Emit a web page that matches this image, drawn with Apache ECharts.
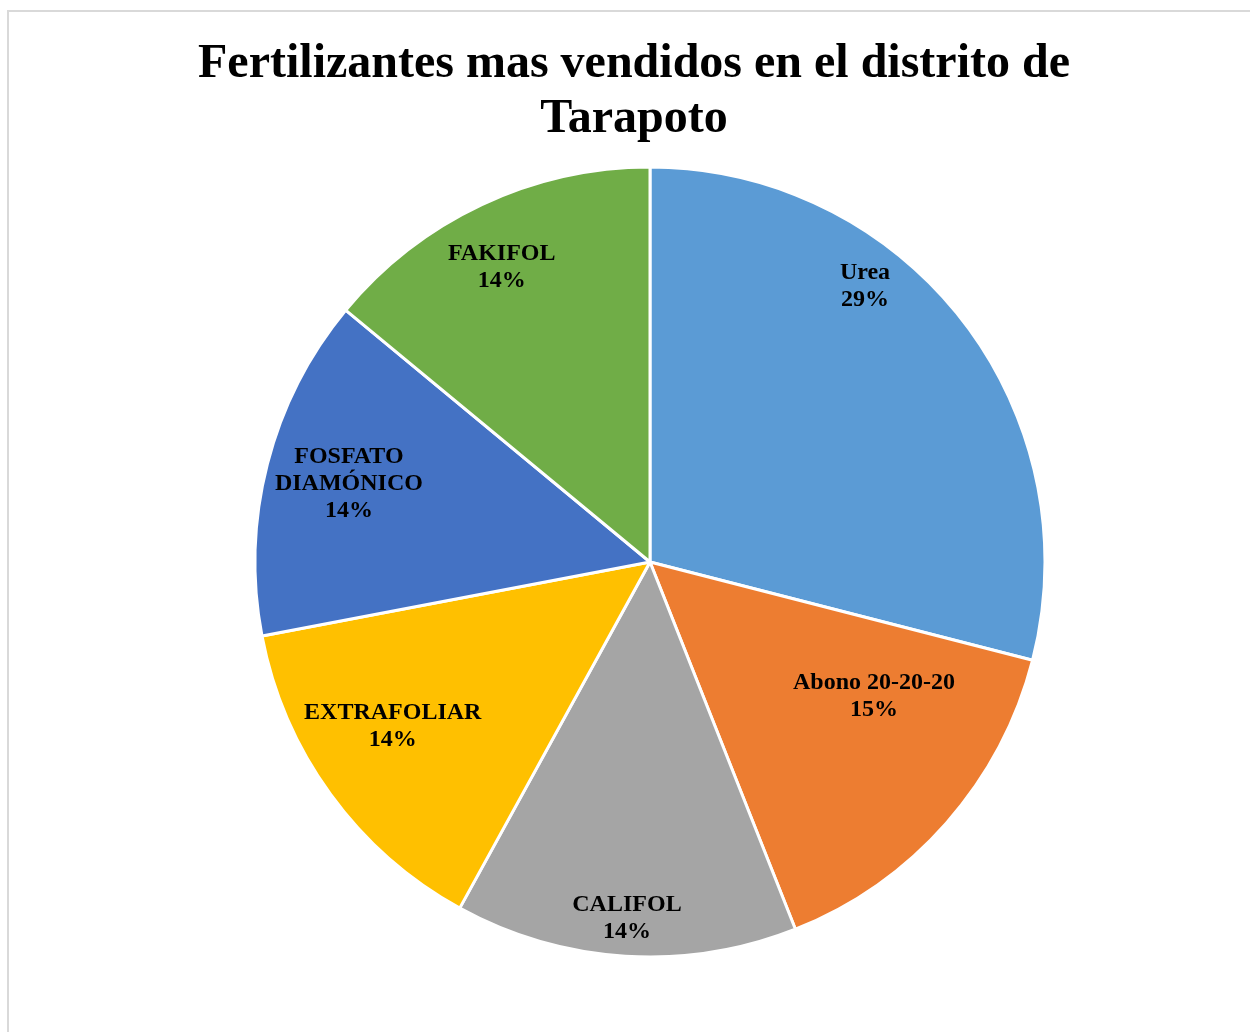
<!DOCTYPE html>
<html>
<head>
<meta charset="utf-8">
<script src="https://cdn.jsdelivr.net/npm/echarts@6/dist/echarts.min.js"></script>
<style>
html, body { margin: 0; padding: 0; background: #fff; overflow: hidden; }
.frame {
  position: absolute; left: 7px; top: 10px; width: 1300px; height: 1100px;
  border: 2px solid #d9d9d9; box-sizing: border-box;
}
#chart { position: absolute; left: 0; top: 0; width: 1250px; height: 1032px; }
</style>
</head>
<body>
<div class="frame"></div>
<div id="chart"></div>
<script>
const categories = ['Urea', 'Abono 20-20-20', 'CALIFOL', 'EXTRAFOLIAR', 'FOSFATO\nDIAMÓNICO', 'FAKIFOL'];
const values = [29, 15, 14, 14, 14, 14];
const colors = ['#5B9BD5', '#ED7D31', '#A5A5A5', '#FFC000', '#4472C4', '#70AD47'];

// where each label sits: angle from top (clockwise, deg) and distance from centre (px)
const labelSpots = [[37.9, 350], [120.9, 261], [183.7, 357], [237.5, 305], [284.5, 311], [333.3, 330]];
const cx = 650, cy = 562;

const myChart = echarts.init(document.getElementById('chart'));
let option;

option = {
  backgroundColor: 'transparent',
  title: {
    text: 'Fertilizantes mas vendidos en el distrito de\nTarapoto',
    left: 629,
    textAlign: 'center',
    top: 32,
    textStyle: {
      fontFamily: 'Liberation Serif',
      fontWeight: 'bold',
      fontSize: 48,
      lineHeight: 55,
      color: '#000'
    }
  },
  series: [
    {
      type: 'pie',
      center: [cx, cy],
      radius: 395,
      startAngle: 90,
      clockwise: true,
      animation: false,
      data: categories.map((c, i) => ({ name: c, value: values[i], itemStyle: { color: colors[i] } })),
      itemStyle: { borderColor: '#fff', borderWidth: 3 },
      label: {
        show: true,
        position: 'inside',
        formatter: '{b}\n{d}%',
        fontFamily: 'Liberation Serif',
        fontWeight: 'bold',
        fontSize: 24,
        lineHeight: 27,
        color: '#000',
        align: 'center'
      },
      labelLine: { show: false },
      emphasis: { disabled: true },
      labelLayout: function (params) {
        const s = labelSpots[params.dataIndex];
        const a = s[0] * Math.PI / 180;
        return {
          x: cx + s[1] * Math.sin(a),
          y: cy - s[1] * Math.cos(a),
          align: 'center',
          verticalAlign: 'middle'
        };
      }
    }
  ]
};

option && myChart.setOption(option);
</script>
</body>
</html>
